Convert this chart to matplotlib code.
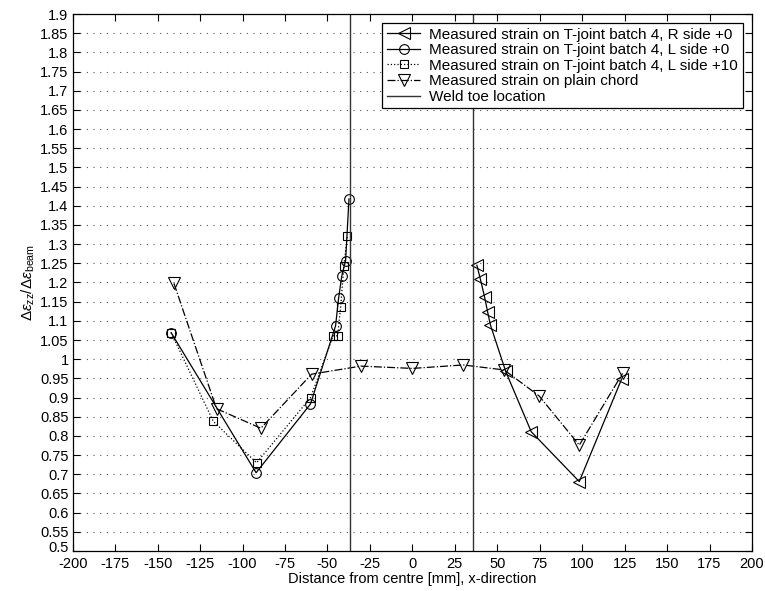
import numpy as np
import matplotlib

matplotlib.use("Agg")
import matplotlib.pyplot as plt
from matplotlib.transforms import ScaledTranslation

plt.rcParams["font.family"] = ["Liberation Sans", "DejaVu Sans"]
plt.rcParams["axes.unicode_minus"] = False
plt.rcParams["mathtext.fontset"] = "custom"
plt.rcParams["mathtext.rm"] = "Liberation Sans"
plt.rcParams["mathtext.it"] = "Liberation Sans:italic"

# T-joint batch 4, R side +0 (left-pointing triangles, solid)
r_side_x = [38, 40, 42.5, 44.3, 46, 55, 70, 98.3, 123.2]
r_side_y = [1.245, 1.21, 1.163, 1.124, 1.089, 0.968, 0.811, 0.681, 0.948]

# T-joint batch 4, L side +0 (circles, solid)
l_side0_x = [-142, -92, -60, -45.2, -43.4, -41.5, -39.3, -37.3]
l_side0_y = [1.069, 0.704, 0.883, 1.087, 1.160, 1.218, 1.257, 1.418]

# T-joint batch 4, L side +10 (squares, dotted)
l_side10_x = [-142, -117.2, -91.7, -59.9, -46.6, -44, -42.2, -40.3, -38.3]
l_side10_y = [1.069, 0.838, 0.730, 0.900, 1.061, 1.061, 1.137, 1.243, 1.321]

# plain chord (down triangles, dash-dot)
chord_x = [-140.4, -115.3, -89.2, -59.3, -30.3, 0, 30, 54.1, 74.7, 98.3, 123.8]
chord_y = [1.198, 0.871, 0.820, 0.961, 0.982, 0.976, 0.985, 0.972, 0.904, 0.776, 0.963]

weld_toe_x = [-36.5, 36]

x_ticks = np.arange(-200, 201, 25)
y_ticks = np.arange(0.5, 1.9001, 0.05)

fig = plt.figure(figsize=(7.65, 5.91), dpi=100)
ax = fig.add_axes([0.095, 0.0677, 0.888, 0.9086])

lw = 0.9
ax.plot(r_side_x, r_side_y, color="black", lw=lw, marker="<", ms=8,
        mfc="none", mec="black", mew=0.8,
        label="Measured strain on T-joint batch 4, R side +0")
ax.plot(l_side0_x, l_side0_y, color="black", lw=lw, marker="o", ms=7,
        mfc="none", mec="black", mew=0.8,
        label="Measured strain on T-joint batch 4, L side +0")
ax.plot(l_side10_x, l_side10_y, color="black", lw=lw, ls=":", marker="s", ms=6,
        mfc="none", mec="black", mew=0.8,
        label="Measured strain on T-joint batch 4, L side +10")
ax.plot(chord_x, chord_y, color="black", lw=lw, ls="-.", marker="v", ms=8,
        mfc="none", mec="black", mew=0.8,
        label="Measured strain on plain chord")
for i, wx in enumerate(weld_toe_x):
    ax.axvline(wx, color="#333333", lw=1.0,
               label="Weld toe location" if i == 0 else None)

ax.set_xlim(-200, 200)
ax.set_ylim(0.5, 1.9)
ax.set_xticks(x_ticks)
ax.set_yticks(y_ticks)
ax.set_yticklabels([f"{round(v, 2):g}" for v in y_ticks])
ax.tick_params(direction="in", length=5, width=0.8, labelsize=10.5,
               top=True, right=True)
ax.tick_params(axis="x", pad=4)
ax.tick_params(axis="y", pad=3)
# nudge the lowest y label up a little so it clears "-200"
lab = ax.get_yticklabels()[0]
lab.set_transform(lab.get_transform() + ScaledTranslation(0, 3 / 72, fig.dpi_scale_trans))
ax.grid(axis="y", color="#555555", linestyle=(0, (1, 5)), lw=0.8)
for s in ax.spines.values():
    s.set_linewidth(0.9)

ax.set_xlabel("Distance from centre [mm], x-direction", fontsize=10.5, labelpad=1)
ax.set_ylabel(r"$\Delta\epsilon_{\rm zz}/\Delta\epsilon_{\rm beam}$", fontsize=11, labelpad=2)

leg = ax.legend(loc="upper right", fontsize=11, frameon=True, fancybox=False,
                edgecolor="black", framealpha=1, borderaxespad=0.6,
                handlelength=2.2, labelspacing=0.1, borderpad=0.3,
                handletextpad=0.6)
leg.get_frame().set_linewidth(0.9)

fig.savefig("out.png", dpi=100, facecolor="white")
